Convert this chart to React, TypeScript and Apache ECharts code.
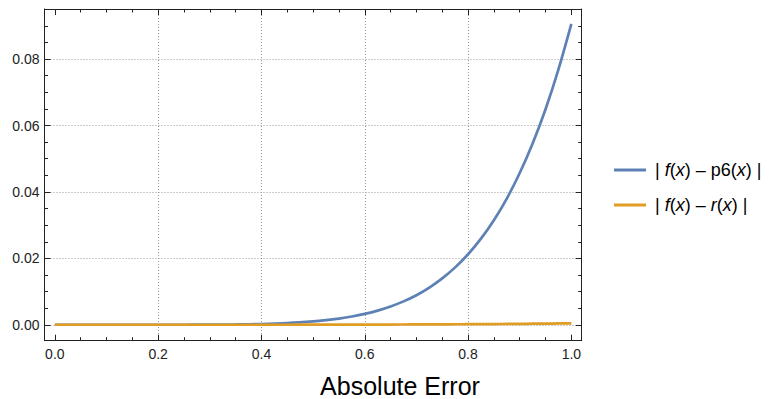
import React, { useEffect, useRef } from "react";
import * as echarts from "echarts";

// ---- data ----
const xValues = [0, 0.05, 0.1, 0.15, 0.2, 0.25, 0.3, 0.35, 0.4, 0.45, 0.5, 0.525, 0.55, 0.575, 0.6, 0.625, 0.65, 0.675, 0.7, 0.725, 0.75, 0.775, 0.8, 0.825, 0.85, 0.875, 0.9, 0.925, 0.95, 0.975, 1.0];
const p6Error = [0, 0, 0, 0.0000004, 0.0000026, 0.0000111, 0.000036, 0.000099, 0.000235, 0.000505, 0.001, 0.00137, 0.00186, 0.00248, 0.00327, 0.00427, 0.00551, 0.00704, 0.0089, 0.0112, 0.01397, 0.01728, 0.02124, 0.02595, 0.0315, 0.038, 0.0457, 0.0546, 0.0649, 0.0769, 0.0906];
const rError = [0, 0, 0, 0, 0, 0, 0.000001, 0.000003, 0.000006, 0.00001, 0.00002, 0.000025, 0.00003, 0.00004, 0.00005, 0.00006, 0.00007, 0.000085, 0.0001, 0.000115, 0.00013, 0.00015, 0.00017, 0.000195, 0.00022, 0.00025, 0.00028, 0.000315, 0.00035, 0.00039, 0.00043];

const seriesNames = ["|f(x) - p6(x)|", "|f(x) - r(x)|"];
const seriesLabels = ["| {i|f}({i|x}) \u2013 p6({i|x}) |", "| {i|f}({i|x}) \u2013 {i|r}({i|x}) |"];
const titleText = "Absolute Error";

const xMajorTicks = [0, 0.2, 0.4, 0.6, 0.8, 1.0];
const xMinorTicks = [0.05, 0.1, 0.15, 0.25, 0.3, 0.35, 0.45, 0.5, 0.55, 0.65, 0.7, 0.75, 0.85, 0.9, 0.95];
const xGridLines = [0.2, 0.4, 0.6, 0.8];
const yMajorTicks = [0, 0.02, 0.04, 0.06, 0.08];
const yMinorTicks = [0.005, 0.01, 0.015, 0.025, 0.03, 0.035, 0.045, 0.05, 0.055, 0.065, 0.07, 0.075, 0.085, 0.09];
const yGridLines = [0, 0.02, 0.04, 0.06, 0.08];

const X_MIN = -0.02;
const X_MAX = 1.02;
const Y_MIN = -0.0048;
const Y_MAX = 0.0951;

const FONT = "Liberation Sans";
const FRAME = "#222222";
const BLUE = "#5E81B5";
const ORANGE = "#E19C24";

function axisBase(min: number, max: number, position: string) {
  return {
    type: "value",
    min,
    max,
    position,
    axisLine: { show: false, onZero: false },
    axisTick: { show: false },
    axisLabel: { show: false },
    splitLine: { show: false },
  };
}

function tickAxis(min: number, max: number, position: string, values: number[], len: number, line: boolean) {
  const a: any = axisBase(min, max, position);
  a.axisLine = { show: line, onZero: false, lineStyle: { color: FRAME, width: 1 } };
  a.axisTick = { show: true, inside: true, length: len, customValues: values, lineStyle: { color: FRAME, width: 1 } };
  return a;
}

function gridAxis(min: number, max: number, position: string, values: number[]) {
  const a: any = axisBase(min, max, position);
  a.axisTick = { show: false, customValues: values };
  a.splitLine = { show: true, lineStyle: { color: "#999999", width: 1, type: [1, 2] } };
  return a;
}

export default function App() {
  const ref = useRef<HTMLDivElement>(null);

  useEffect(() => {
    if (!ref.current) return;
    const chart = echarts.init(ref.current, null, { renderer: "svg" });

    const xBottom = tickAxis(X_MIN, X_MAX, "bottom", xMajorTicks, 6, true);
    xBottom.axisLabel = {
      show: true,
      customValues: xMajorTicks,
      formatter: (v: number) => v.toFixed(1),
      margin: 6,
      fontFamily: FONT,
      fontSize: 14,
      color: "#222",
    };
    const yLeft = tickAxis(Y_MIN, Y_MAX, "left", yMajorTicks, 6, true);
    yLeft.axisLabel = {
      show: true,
      customValues: yMajorTicks,
      formatter: (v: number) => v.toFixed(2),
      margin: 5,
      fontFamily: FONT,
      fontSize: 14,
      color: "#222",
    };

    const option: any = {
      animation: false,
      backgroundColor: "#ffffff",
      grid: {
        left: 44.5,
        right: 192.3,
        top: 9,
        bottom: 58.3,
        containLabel: false,
        outerBoundsMode: "none",
      },
      xAxis: [
        xBottom,
        tickAxis(X_MIN, X_MAX, "bottom", xMinorTicks, 3.5, false),
        tickAxis(X_MIN, X_MAX, "top", xMajorTicks, 6, true),
        tickAxis(X_MIN, X_MAX, "top", xMinorTicks, 3.5, false),
        gridAxis(X_MIN, X_MAX, "bottom", xGridLines),
      ],
      yAxis: [
        yLeft,
        tickAxis(Y_MIN, Y_MAX, "left", yMinorTicks, 3.5, false),
        tickAxis(Y_MIN, Y_MAX, "right", yMajorTicks, 6, true),
        tickAxis(Y_MIN, Y_MAX, "right", yMinorTicks, 3.5, false),
        gridAxis(Y_MIN, Y_MAX, "left", yGridLines),
      ],
      legend: {
        orient: "vertical",
        left: 609,
        top: 155,
        icon: "rect",
        itemWidth: 32,
        itemHeight: 3,
        itemGap: 15,
        data: seriesNames,
        formatter: (name: string) => seriesLabels[seriesNames.indexOf(name)],
        textStyle: {
          fontFamily: FONT,
          fontSize: 18,
          lineHeight: 20,
          color: "#000",
          padding: [0, 0, 0, 4],
          rich: {
            i: { fontFamily: FONT, fontSize: 18, fontStyle: "italic", color: "#000", lineHeight: 20 },
          },
        },
      },
      graphic: [
        {
          type: "text",
          x: 400,
          y: 385.5,
          style: {
            text: titleText,
            fontFamily: FONT,
            fontSize: 25,
            fill: "#000",
            align: "center",
            verticalAlign: "middle",
          },
        },
      ],
      series: [
        {
          name: seriesNames[0],
          type: "line",
          xAxisIndex: 0,
          yAxisIndex: 0,
          data: xValues.map((x, i) => [x, p6Error[i]]),
          showSymbol: false,
          symbol: "none",
          smooth: 0.3,
          lineStyle: { color: BLUE, width: 2.7 },
          itemStyle: { color: BLUE },
        },
        {
          name: seriesNames[1],
          type: "line",
          xAxisIndex: 0,
          yAxisIndex: 0,
          data: xValues.map((x, i) => [x, rError[i]]),
          showSymbol: false,
          symbol: "none",
          smooth: 0.3,
          lineStyle: { color: ORANGE, width: 2.7 },
          itemStyle: { color: ORANGE },
        },
      ],
    };

    chart.setOption(option);
    return () => chart.dispose();
  }, []);

  return (
    <div
      ref={ref}
      style={{ position: "fixed", left: 0, top: 0, width: 774, height: 399, background: "#fff" }}
    />
  );
}
